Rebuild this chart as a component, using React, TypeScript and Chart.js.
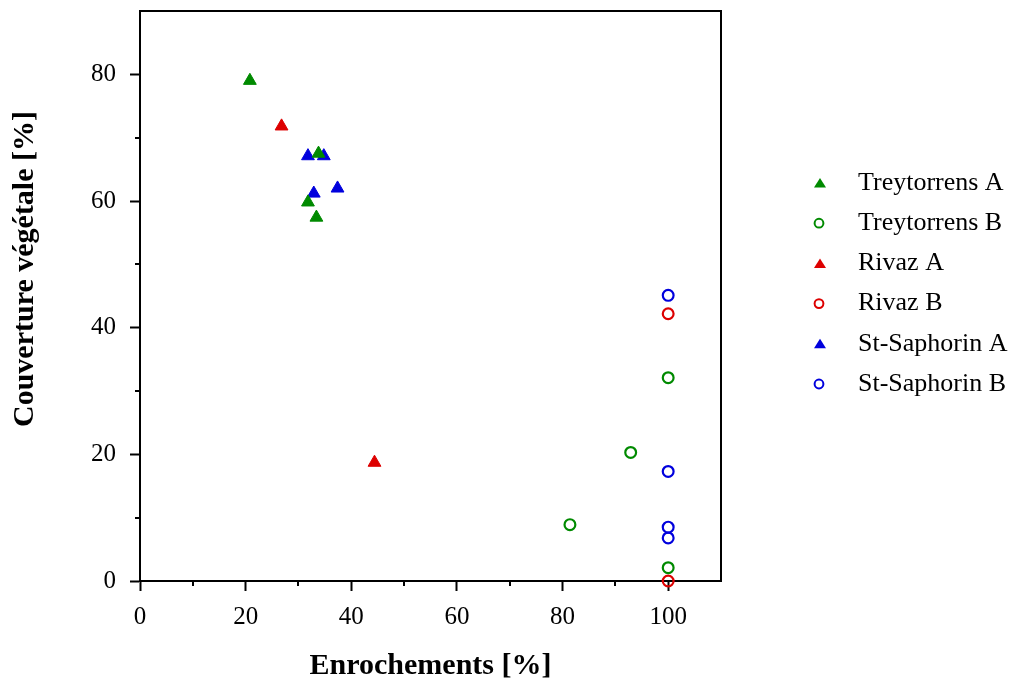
import React, { useEffect, useRef } from 'react';
import { Chart, registerables } from 'chart.js';

Chart.register(...registerables);

// ---- data ----
const seriesNames = ['Treytorrens A', 'Treytorrens B', 'Rivaz A', 'Rivaz B', 'St-Saphorin A', 'St-Saphorin B'];
const seriesColors = ['#008a00', '#008a00', '#dd0000', '#dd0000', '#0000dd', '#0000dd'];
const seriesMarkers = ['triangle', 'circle', 'triangle', 'circle', 'triangle', 'circle'];

const treytorrensAX = [20.8, 33.8, 31.8, 33.4];
const treytorrensAY = [79.0, 67.5, 59.8, 57.4];
const treytorrensBX = [81.4, 92.9, 100, 100];
const treytorrensBY = [8.9, 20.3, 32.1, 2.1];
const rivazAX = [26.8, 44.4];
const rivazAY = [71.8, 18.7];
const rivazBX = [100, 100];
const rivazBY = [42.2, 0];
const stSaphorinAX = [31.8, 34.8, 32.9, 37.4];
const stSaphorinAY = [67.1, 67.1, 61.2, 62.0];
const stSaphorinBX = [100, 100, 100, 100];
const stSaphorinBY = [45.1, 17.3, 8.5, 6.8];

const xMinorTicks = [10, 30, 50, 70, 90];
const yMinorTicks = [10, 30, 50, 70];

const xTitle = 'Enrochements [%]';
const yTitle = 'Couverture végétale [%]';

const FONT = '"Liberation Serif", "Times New Roman", Times, serif';

const toPoints = (xs: number[], ys: number[]) => xs.map((x, i) => ({ x, y: ys[i] }));

// frame (top/right), minor ticks on the axes, vertical axis title
const framePlugin = {
  id: 'frameAndMinorTicks',
  afterDraw(chart: any, _args: any, opts: any) {
    const { ctx, chartArea, scales } = chart;
    const xs = scales.x;
    const ys = scales.y;
    ctx.save();
    ctx.strokeStyle = '#000';
    ctx.lineWidth = 2;
    ctx.beginPath();
    ctx.moveTo(chartArea.left - 1, chartArea.top);
    ctx.lineTo(chartArea.right, chartArea.top);
    ctx.lineTo(chartArea.right, chartArea.bottom + 1);
    ctx.stroke();
    ctx.beginPath();
    xMinorTicks.forEach((v) => {
      const px = Math.round(xs.getPixelForValue(v));
      ctx.moveTo(px, chartArea.bottom);
      ctx.lineTo(px, chartArea.bottom + 5);
    });
    yMinorTicks.forEach((v) => {
      const py = Math.round(ys.getPixelForValue(v));
      ctx.moveTo(chartArea.left - 5, py);
      ctx.lineTo(chartArea.left, py);
    });
    ctx.stroke();

    // y axis title
    ctx.translate(opts.yTitleX, chartArea.top + opts.yTitleOffset);
    ctx.rotate(-Math.PI / 2);
    ctx.fillStyle = '#000';
    ctx.font = `bold 30px ${FONT}`;
    ctx.textAlign = 'center';
    ctx.textBaseline = 'middle';
    ctx.fillText(opts.yTitle, 0, 0);
    ctx.restore();
  },
};

// legend to the right of the plot, built from the datasets
const sideLegendPlugin = {
  id: 'sideLegend',
  afterDraw(chart: any, _args: any, opts: any) {
    const { ctx, chartArea } = chart;
    const markerX = chartArea.right + opts.markerOffset;
    const textX = chartArea.right + opts.textOffset;
    ctx.save();
    chart.data.datasets.forEach((ds: any, i: number) => {
      const cy = opts.firstRowY + i * opts.rowStep;
      const color = ds.borderColor;
      if (ds.pointStyle === 'triangle') {
        ctx.fillStyle = color;
        ctx.beginPath();
        ctx.moveTo(markerX, cy - 5);
        ctx.lineTo(markerX + 6, cy + 4.5);
        ctx.lineTo(markerX - 6, cy + 4.5);
        ctx.closePath();
        ctx.fill();
      } else {
        ctx.strokeStyle = color;
        ctx.lineWidth = 2;
        ctx.beginPath();
        ctx.arc(markerX - 1, cy, 4.4, 0, Math.PI * 2);
        ctx.stroke();
      }
      ctx.fillStyle = '#000';
      ctx.font = `26px ${FONT}`;
      ctx.textAlign = 'left';
      ctx.textBaseline = 'middle';
      ctx.fillText(ds.label, textX, cy);
    });
    ctx.restore();
  },
};

export default function App() {
  const canvasRef = useRef<HTMLCanvasElement | null>(null);

  useEffect(() => {
    const canvas = canvasRef.current;
    if (!canvas) return;
    const seriesData = [
      toPoints(treytorrensAX, treytorrensAY),
      toPoints(treytorrensBX, treytorrensBY),
      toPoints(rivazAX, rivazAY),
      toPoints(rivazBX, rivazBY),
      toPoints(stSaphorinAX, stSaphorinAY),
      toPoints(stSaphorinBX, stSaphorinBY),
    ];
    const datasets = seriesNames.map((name, i) => {
      const tri = seriesMarkers[i] === 'triangle';
      return {
        label: name,
        data: seriesData[i],
        pointStyle: seriesMarkers[i],
        pointRadius: tri ? 7.4 : 5.4,
        pointHoverRadius: tri ? 7.4 : 5.4,
        backgroundColor: tri ? seriesColors[i] : 'rgba(0,0,0,0)',
        borderColor: seriesColors[i],
        borderWidth: tri ? 1 : 2.2,
        clip: false as any,
      };
    });

    const chart = new Chart(canvas, {
      type: 'scatter',
      data: { datasets },
      plugins: [framePlugin, sideLegendPlugin],
      options: {
        animation: false,
        responsive: false,
        layout: { padding: { top: 11, right: 297, bottom: 0, left: 0 } },
        plugins: {
          tooltip: { enabled: false },
          legend: { display: false },
          sideLegend: { markerOffset: 99, textOffset: 137, firstRowY: 183, rowStep: 40.2 },
          frameAndMinorTicks: { yTitle, yTitleX: 25, yTitleOffset: 258 },
        },
        scales: {
          x: {
            type: 'linear',
            position: 'bottom',
            min: 0,
            max: 110,
            afterFit: (scale: any) => {
              scale.height = 105;
              scale.paddingLeft = 0;
              scale.paddingRight = 0;
            },
            ticks: {
              stepSize: 20,
              includeBounds: false,
              padding: 11,
              color: '#000',
              font: { family: FONT, size: 25 },
              maxRotation: 0,
            },
            grid: {
              drawOnChartArea: false,
              drawTicks: true,
              tickLength: 10,
              tickWidth: 2,
              tickColor: '#000',
            },
            border: { display: true, color: '#000', width: 2 },
            title: {
              display: true,
              text: xTitle,
              color: '#000',
              font: { family: FONT, size: 30, weight: 'bold' },
              padding: { top: 0, bottom: 2 },
            },
          },
          y: {
            type: 'linear',
            position: 'left',
            min: 0,
            max: 90,
            afterFit: (scale: any) => {
              scale.width = 140;
              scale.paddingTop = 0;
              scale.paddingBottom = 0;
            },
            ticks: {
              stepSize: 20,
              includeBounds: false,
              padding: 14,
              color: '#000',
              font: { family: FONT, size: 25 },
            },
            grid: {
              drawOnChartArea: false,
              drawTicks: true,
              tickLength: 10,
              tickWidth: 2,
              tickColor: '#000',
            },
            border: { display: true, color: '#000', width: 2 },
            title: { display: false },
          },
        },
      } as any,
    });
    return () => chart.destroy();
  }, []);

  return (
    <div style={{ position: 'fixed', left: 0, top: 0, width: 1018, height: 686, background: '#fff' }}>
      <canvas ref={canvasRef} width={1018} height={686} style={{ display: 'block' }} />
    </div>
  );
}
